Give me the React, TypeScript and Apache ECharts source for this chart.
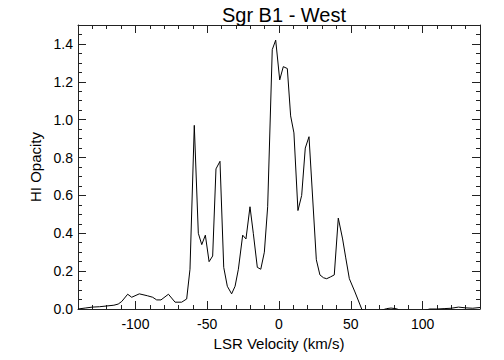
import React, { useEffect, useRef } from "react";
import * as echarts from "echarts";

const velocity = [
  -140, -135, -130, -125, -120, -115, -112, -109.5, -105.4, -102.6, -97.3, -91.7, -88, -85.2, -82.2, -77,
  -72.4, -67.8, -64.3, -62, -59, -56.2, -53.8, -51.3, -48.7, -46.2, -43.9, -41.1, -38.5, -36, -33, -30.6,
  -28.3, -25.3, -23, -20.2, -17.9, -15.1, -12.7, -10.2, -7.9, -4.7, -2.3, 0.5, 3, 5.8, 8.1, 10.4, 13.2,
  15.8, 18.3, 20.9, 26, 28.5, 31, 33.2, 36, 38.5, 41.3, 44.3, 46.5, 49, 52.9, 57.6, 60, 65, 70, 75, 78,
  82, 85, 90, 100, 105, 110, 115, 120, 125, 130, 135, 140,
];
const opacity = [
  0.0, 0.005, 0.01, 0.012, 0.016, 0.02, 0.026, 0.04, 0.078, 0.062, 0.08, 0.07, 0.062, 0.048, 0.048, 0.078,
  0.036, 0.036, 0.053, 0.21, 0.97, 0.4, 0.34, 0.39, 0.25, 0.28, 0.74, 0.78, 0.22, 0.12, 0.08, 0.12,
  0.21, 0.39, 0.37, 0.54, 0.4, 0.22, 0.21, 0.3, 0.54, 1.37, 1.42, 1.21, 1.28, 1.27, 1.02, 0.93, 0.52,
  0.6, 0.85, 0.91, 0.26, 0.18, 0.165, 0.16, 0.17, 0.18, 0.48, 0.37, 0.27, 0.16, 0.09, 0.0, -0.02, -0.02,
  -0.01, 0.002, 0.005, 0.001, -0.01, -0.01, -0.01, 0.0, 0.0, 0.002, 0.004, 0.01, 0.006, 0.004, 0.008,
];

const xMajorTicks = [-100, -50, 0, 50, 100];
const xMinorTicks = [
  -140, -130, -120, -110, -100, -90, -80, -70, -60, -50, -40, -30, -20, -10, 0, 10, 20, 30, 40, 50, 60,
  70, 80, 90, 100, 110, 120, 130, 140,
];
const yMajorTicks = [0, 0.2, 0.4, 0.6, 0.8, 1.0, 1.2, 1.4];
const yMinorTicks = [
  0, 0.05, 0.1, 0.15, 0.2, 0.25, 0.3, 0.35, 0.4, 0.45, 0.5, 0.55, 0.6, 0.65, 0.7, 0.75, 0.8, 0.85, 0.9,
  0.95, 1.0, 1.05, 1.1, 1.15, 1.2, 1.25, 1.3, 1.35, 1.4, 1.45, 1.5,
];

const FONT = "'Liberation Sans', Arial, Helvetica, sans-serif";
const AXIS_COLOR = "#222";

export default function App() {
  const ref = useRef<HTMLDivElement>(null);
  useEffect(() => {
    if (!ref.current) return;
    const chart = echarts.init(ref.current, undefined, { renderer: "svg" });
    const points = velocity.map((v, i) => [v, opacity[i]]);

    const xAx = (position: string, major: boolean, showLabel: boolean, showLine: boolean, extra: any = {}) => ({
      type: "value",
      position,
      min: -140,
      max: 140,
      axisLine: { show: showLine, onZero: false, lineStyle: { color: AXIS_COLOR, width: 1 } },
      axisTick: {
        show: true,
        inside: true,
        length: major ? 8 : 4,
        customValues: major ? xMajorTicks : xMinorTicks,
        lineStyle: { color: AXIS_COLOR, width: 1 },
      },
      axisLabel: {
        show: showLabel,
        customValues: xMajorTicks,
        color: "#000",
        fontSize: 14,
        fontFamily: FONT,
        margin: 8,
      },
      splitLine: { show: false },
      ...extra,
    });
    const yAx = (position: string, major: boolean, showLabel: boolean, showLine: boolean, extra: any = {}) => ({
      type: "value",
      position,
      min: 0,
      max: 1.5,
      axisLine: { show: showLine, onZero: false, lineStyle: { color: AXIS_COLOR, width: 1 } },
      axisTick: {
        show: true,
        inside: true,
        length: major ? 8 : 4,
        customValues: major ? yMajorTicks : yMinorTicks,
        lineStyle: { color: AXIS_COLOR, width: 1 },
      },
      axisLabel: {
        show: showLabel,
        customValues: yMajorTicks,
        formatter: (v: number) => v.toFixed(1),
        color: "#000",
        fontSize: 14,
        fontFamily: FONT,
        margin: 5,
      },
      splitLine: { show: false },
      ...extra,
    });

    chart.setOption({
      animation: false,
      backgroundColor: "#fff",
      title: {
        text: "Sgr B1 - West",
        left: 279,
        top: 0,
        textAlign: "center",
        textStyle: { color: "#000", fontSize: 20, fontWeight: "normal", fontFamily: FONT },
      },
      grid: { left: 78, right: 24, top: 25, bottom: 51, containLabel: false, outerBoundsMode: "none" },
      xAxis: [
        xAx("bottom", true, true, true, {
          name: "LSR Velocity (km/s)",
          nameLocation: "middle",
          nameGap: 25,
          nameTextStyle: { color: "#000", fontSize: 15, fontFamily: FONT },
        }),
        xAx("bottom", false, false, false),
        xAx("top", true, false, true),
        xAx("top", false, false, false),
      ],
      yAxis: [
        yAx("left", true, true, true, {
          name: "HI Opacity",
          nameLocation: "middle",
          nameGap: 34,
          nameTextStyle: { color: "#000", fontSize: 15, fontFamily: FONT },
        }),
        yAx("left", false, false, false),
        yAx("right", true, false, true),
        yAx("right", false, false, false),
      ],
      series: [
        {
          type: "line",
          data: points,
          xAxisIndex: 0,
          yAxisIndex: 0,
          showSymbol: false,
          symbol: "none",
          clip: true,
          lineStyle: { color: "#000", width: 1 },
        },
      ],
    });
    return () => chart.dispose();
  }, []);
  return (
    <div
      ref={ref}
      style={{ position: "fixed", left: 0, top: 0, width: 504, height: 360, background: "#fff" }}
    />
  );
}
